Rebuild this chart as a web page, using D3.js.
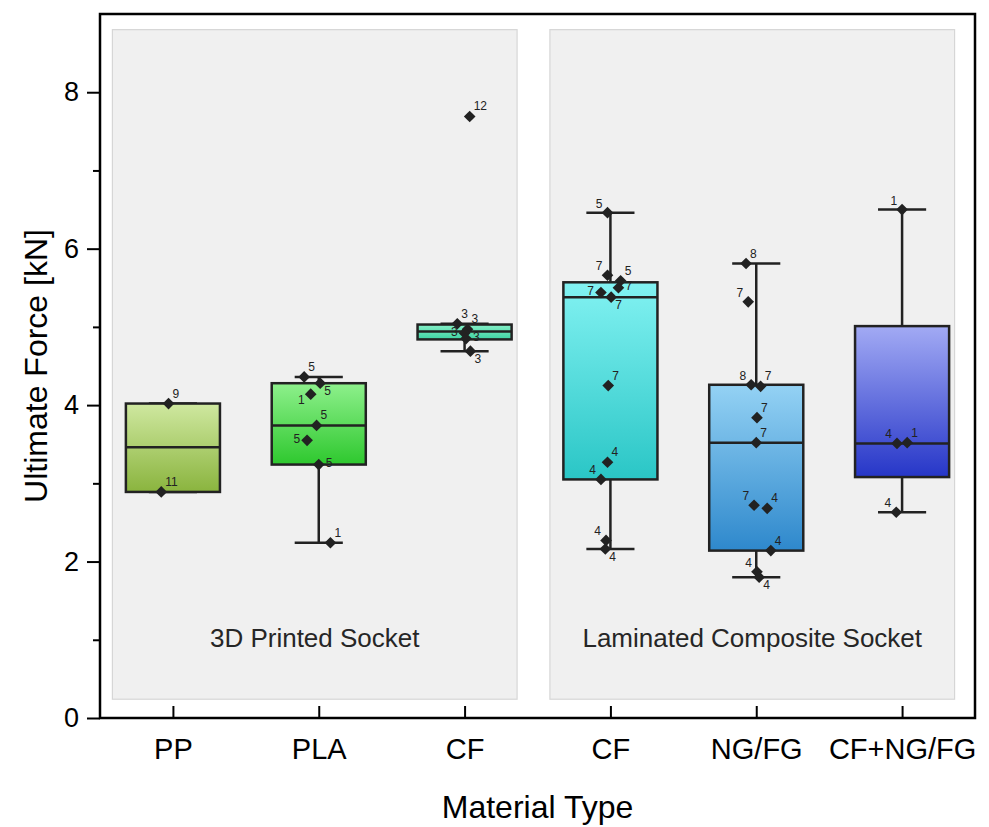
<!DOCTYPE html>
<html>
<head>
<meta charset="utf-8">
<script src="https://cdn.jsdelivr.net/npm/d3@7"></script>
<style>
    body { margin: 0; background: #fff; }
    svg text { font-family: "Liberation Sans", Arial, sans-serif; }
</style>
</head>
<body>
<svg id="chart" width="989" height="827"></svg>
<script>
// categorias (CF aparece dos veces, por eso claves propias)
const categoryKeys = ["pp", "pla", "cf3d", "cflam", "ngfg", "cfngfg"];
const tickLabels = ["PP", "PLA", "CF", "CF", "NG/FG", "CF+NG/FG"];

// estadisticas de caja
const whiskerLow = [2.89, 2.24, 4.69, 2.16, 1.80, 2.63];
const q1 = [2.89, 3.24, 4.84, 3.05, 2.14, 3.08];
const median = [3.46, 3.74, 4.94, 5.38, 3.52, 3.51];
const q3 = [4.02, 4.28, 5.03, 5.57, 4.26, 5.01];
const whiskerHigh = [4.02, 4.36, 5.04, 6.46, 5.81, 6.50];

// puntos individuales
const ppValues = [4.02, 2.89];
const plaValues = [4.36, 4.28, 4.14, 3.74, 3.55, 3.24, 2.24];
const cf3dValues = [5.04, 4.97, 4.92, 4.85, 4.69, 7.69];
const cfLamValues = [6.46, 5.66, 5.59, 5.50, 5.44, 5.38, 4.25, 3.27, 3.05, 2.27, 2.16];
const ngfgValues = [5.81, 5.32, 4.26, 4.24, 3.84, 3.52, 2.72, 2.68, 2.14, 1.87, 1.80];
const cfngfgValues = [6.50, 3.51, 3.52, 2.63];

// etiquetas de cada punto
const ppLabels = ["9", "11"];
const plaLabels = ["5", "5", "1", "5", "5", "5", "1"];
const cf3dLabels = ["3", "3", "3", "3", "3", "12"];
const cfLamLabels = ["5", "7", "5", "7", "7", "7", "7", "4", "4", "4", "4"];
const ngfgLabels = ["8", "7", "8", "7", "7", "7", "7", "4", "4", "4", "4"];
const cfngfgLabels = ["1", "4", "1", "4"];

// dispersion horizontal (fraccion del paso de categoria)
const ppJitter = [-0.03, -0.08];
const plaJitter = [-0.10, 0.01, -0.055, -0.015, -0.08, 0, 0.08];
const cf3dJitter = [-0.05, 0.02, 0, 0.01, 0.04, 0.035];
const cfLamJitter = [-0.02, -0.02, 0.07, 0.055, -0.065, 0.005, -0.015, -0.02, -0.065, -0.03, -0.035];
const ngfgJitter = [-0.07, -0.055, -0.035, 0.03, 0.005, 0, -0.015, 0.075, 0.1, 0.005, 0.02];
const cfngfgJitter = [0, -0.035, 0.035, -0.04];

// lado de la etiqueta
const ppSides = ["ur", "ur"];
const plaSides = ["ur", "lr", "ll", "ur", "l", "r", "ur"];
const cf3dSides = ["ur", "ur", "l", "r", "lr", "ur"];
const cfLamSides = ["ul", "ul", "ur", "r", "l", "lr", "ur", "ur", "ul", "ul", "lr"];
const ngfgSides = ["ur", "ul", "ul", "ur", "ur", "ur", "ul", "ur", "ur", "ul", "lr"];
const cfngfgSides = ["ul", "ul", "ur", "ul"];

// grupos (paneles grises)
const panelNames = ["3D Printed Socket", "Laminated Composite Socket"];
const panelFirst = [0, 3];
const panelLast = [2, 5];

// colores de relleno (arriba, abajo)
const topColors = ["#cfe8a0", "#8ef08c", "#86f0c8", "#82f2f2", "#94d2f4", "#a2aaf4"];
const bottomColors = ["#8ab43e", "#2ec82e", "#3ed2a2", "#2ac6c6", "#2e88cc", "#2636c8"];

const yTicks = [0, 2, 4, 6, 8];
const yMinorTicks = [1, 3, 5, 7];

const allValues = [ppValues, plaValues, cf3dValues, cfLamValues, ngfgValues, cfngfgValues];
const allLabels = [ppLabels, plaLabels, cf3dLabels, cfLamLabels, ngfgLabels, cfngfgLabels];
const allJitter = [ppJitter, plaJitter, cf3dJitter, cfLamJitter, ngfgJitter, cfngfgJitter];
const allSides = [ppSides, plaSides, cf3dSides, cfLamSides, ngfgSides, cfngfgSides];

const margin = { top: 14, right: 14, bottom: 109, left: 100 };
const svg = d3.select("#chart");
const width = +svg.attr("width") - margin.left - margin.right;
const height = +svg.attr("height") - margin.top - margin.bottom;
const g = svg.append("g").attr("transform", `translate(${margin.left},${margin.top})`);

const x = d3.scalePoint().domain(categoryKeys).range([0, width]).padding(0.5);
const y = d3.scaleLinear().domain([0, 9]).range([height, 0]);
const step = x.step();
const boxW = step * 0.645;
const capW = step * 0.33;

// paneles
panelNames.forEach((name, i) => {
    const x0 = x(categoryKeys[panelFirst[i]]) - step * 0.415;
    const x1 = x(categoryKeys[panelLast[i]]) + step * 0.36;
    g.append("rect")
        .attr("x", x0)
        .attr("y", y(8.8))
        .attr("width", x1 - x0)
        .attr("height", y(0.24) - y(8.8))
        .attr("fill", "#f0f0f0")
        .attr("stroke", "#d6d6d6")
        .attr("stroke-width", 1.2);
    g.append("text")
        .attr("x", (x0 + x1) / 2)
        .attr("y", y(0.91))
        .attr("text-anchor", "middle")
        .attr("font-size", 26)
        .attr("fill", "#262626")
        .text(name);
});

// gradientes
const defs = svg.append("defs");
categoryKeys.forEach((k, i) => {
    const grad = defs.append("linearGradient")
        .attr("id", `grad-${k}`)
        .attr("x1", 0).attr("y1", 0).attr("x2", 0).attr("y2", 1);
    grad.append("stop").attr("offset", "0%").attr("stop-color", topColors[i]);
    grad.append("stop").attr("offset", "100%").attr("stop-color", bottomColors[i]);
});

// cajas
categoryKeys.forEach((k, i) => {
    const cx = x(k);
    const box = g.append("g").attr("class", "box");
    box.append("line")
        .attr("x1", cx).attr("x2", cx)
        .attr("y1", y(whiskerHigh[i])).attr("y2", y(whiskerLow[i]))
        .attr("stroke", "#222").attr("stroke-width", 2.5);
    [whiskerHigh[i], whiskerLow[i]].forEach(v => {
        box.append("line")
            .attr("x1", cx - capW / 2).attr("x2", cx + capW / 2)
            .attr("y1", y(v)).attr("y2", y(v))
            .attr("stroke", "#222").attr("stroke-width", 2.5);
    });
    box.append("rect")
        .attr("x", cx - boxW / 2)
        .attr("y", y(q3[i]))
        .attr("width", boxW)
        .attr("height", y(q1[i]) - y(q3[i]))
        .attr("fill", `url(#grad-${k})`)
        .attr("stroke", "#222")
        .attr("stroke-width", 2.5);
    box.append("line")
        .attr("x1", cx - boxW / 2).attr("x2", cx + boxW / 2)
        .attr("y1", y(median[i])).attr("y2", y(median[i]))
        .attr("stroke", "#222").attr("stroke-width", 2.5);
});

// puntos y etiquetas
const sideOffsets = {
    ur: { dx: 4, dy: -6, anchor: "start" },
    ul: { dx: -5, dy: -5, anchor: "end" },
    r: { dx: 7, dy: 2, anchor: "start" },
    l: { dx: -7, dy: 3, anchor: "end" },
    lr: { dx: 4, dy: 12, anchor: "start" },
    ll: { dx: -6, dy: 10, anchor: "end" }
};
const diamond = d3.symbol().type(d3.symbolSquare).size(68);

categoryKeys.forEach((k, i) => {
    const points = allValues[i].map((v, j) => ({
        v,
        px: x(k) + allJitter[i][j] * step,
        label: allLabels[i][j],
        side: sideOffsets[allSides[i][j]]
    }));
    const pg = g.append("g").attr("class", "points");
    pg.selectAll("path")
        .data(points)
        .enter().append("path")
        .attr("d", diamond)
        .attr("transform", d => `translate(${d.px},${y(d.v)}) rotate(45)`)
        .attr("fill", "#222");
    pg.selectAll("text")
        .data(points)
        .enter().append("text")
        .attr("x", d => d.px + d.side.dx)
        .attr("y", d => y(d.v) + d.side.dy)
        .attr("text-anchor", d => d.side.anchor)
        .attr("font-size", 12)
        .attr("fill", "#222")
        .text(d => d.label);
});

// ejes
const yAxis = g.append("g")
    .call(d3.axisLeft(y).tickValues(yTicks).tickSize(13).tickPadding(8).tickFormat(d3.format("d")));
yAxis.select(".domain").remove();
yAxis.selectAll("line").attr("stroke", "#000").attr("stroke-width", 2);
yAxis.selectAll("text").attr("font-size", 27).attr("fill", "#000");

const yMinor = g.append("g")
    .call(d3.axisLeft(y).tickValues(yMinorTicks).tickSize(7).tickFormat(""));
yMinor.select(".domain").remove();
yMinor.selectAll("line").attr("stroke", "#000").attr("stroke-width", 2);

const xAxis = g.append("g")
    .attr("transform", `translate(0,${height})`)
    .call(d3.axisBottom(x).tickSize(-12).tickPadding(20).tickFormat((d, i) => tickLabels[i]));
xAxis.select(".domain").remove();
xAxis.selectAll("line").attr("stroke", "#000").attr("stroke-width", 2);
xAxis.selectAll("text").attr("font-size", 29).attr("fill", "#000");

// marco
g.append("rect")
    .attr("width", width)
    .attr("height", height)
    .attr("fill", "none")
    .attr("stroke", "#000")
    .attr("stroke-width", 2.5);

// titulos
svg.append("text")
    .attr("x", margin.left + width / 2)
    .attr("y", 818)
    .attr("text-anchor", "middle")
    .attr("font-size", 32)
    .text("Material Type");

svg.append("text")
    .attr("transform", `translate(47,${margin.top + height / 2}) rotate(-90)`)
    .attr("text-anchor", "middle")
    .attr("font-size", 32)
    .text("Ultimate Force [kN]");
</script>
</body>
</html>
